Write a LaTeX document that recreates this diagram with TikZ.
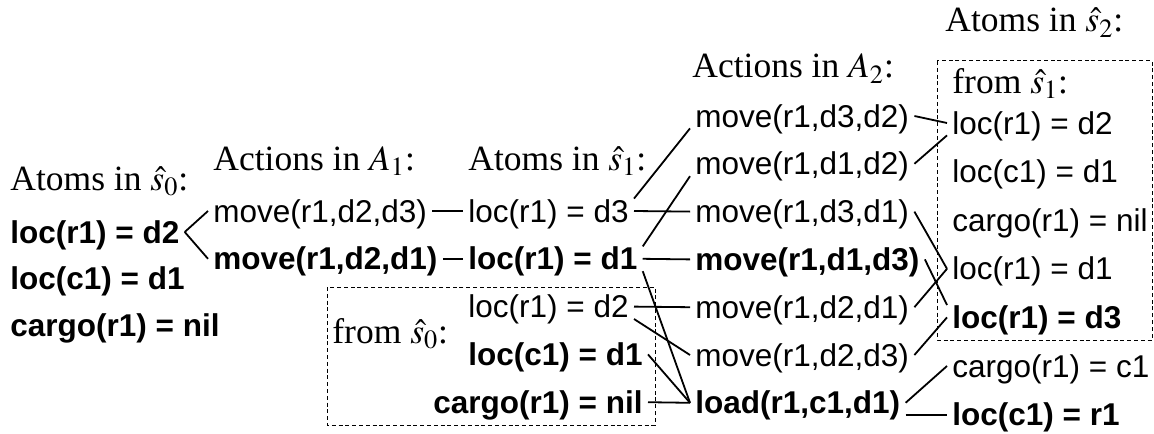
\documentclass[tikz,border=0pt]{standalone}
\usepackage{mathptmx}
\usepackage{fontspec}
\setmainfont{Liberation Serif}
\setsansfont{Liberation Sans}
\usetikzlibrary{positioning}
\newcommand{\atomfont}{\sffamily\fontsize{15.75}{18}\selectfont}
\newcommand{\headfont}{\fontsize{17.75}{20}\selectfont}
\tikzset{
  atom/.style={font=\atomfont, inner xsep=2.5pt, inner ysep=0pt,
               text height=11.5pt, text depth=0.5pt, anchor=base west},
  atomB/.style={atom, font=\atomfont\bfseries},
  head/.style={font=\headfont, inner sep=0pt, anchor=base west},
  link/.style={line width=0.9pt},
  groupbox/.style={draw, line width=0.5pt, dash pattern=on 2pt off 1.4pt},
}
\begin{document}
\begin{tikzpicture}[x=0.5pt, y=-0.5pt]
  \useasboundingbox (0,0) rectangle (1154,433);
  % column headings
  \node[head] (h0) at (10,190) {Atoms in $\hat{s}_0$:};
  \node[head] (h1) at (213,170) {Actions in $A_1$:};
  \node[head] (h2) at (468,170) {Atoms in $\hat{s}_1$:};
  \node[head] (h3) at (692,78) {Actions in $A_2$:};
  \node[head] (h4) at (945,32) {Atoms in $\hat{s}_2$:};
  % atoms in s0
  \node[atomB] (s0a) at (5,243) {loc(r1) = d2};
  \node[atomB, below=11pt of s0a.south west, anchor=north west] (s0b) {loc(c1) = d1};
  \node[atomB, below=11pt of s0b.south west, anchor=north west] (s0c) {cargo(r1) = nil};
  % actions in A1
  \node[atom] (m1a) at (208,222) {move(r1,d2,d3)};
  \node[atomB, below=11.5pt of m1a.south west, anchor=north west] (m1b) {move(r1,d2,d1)};
  % atoms in s1
  \node[atom] (s1a) at (463,222) {loc(r1) = d3};
  \node[atomB, below=11.5pt of s1a.south west, anchor=north west] (s1b) {loc(r1) = d1};
  \node[atom, below=11.5pt of s1b.south west, anchor=north west] (s1c) {loc(r1) = d2};
  \node[atomB, below=11.5pt of s1c.south west, anchor=north west] (s1d) {loc(c1) = d1};
  \node[atomB, below=11.5pt of s1d.south east, anchor=north east] (s1e) {cargo(r1) = nil};
  \node[head] (f0) at (332,343) {from $\hat{s}_0$:};
  \draw[groupbox] (327,287) rectangle (655,425);
  % actions in A2
  \node[atom] (m2a) at (690,127) {move(r1,d3,d2)};
  \node[atom, below=11.5pt of m2a.south west, anchor=north west] (m2b) {move(r1,d1,d2)};
  \node[atom, below=11.5pt of m2b.south west, anchor=north west] (m2c) {move(r1,d3,d1)};
  \node[atomB, below=11.5pt of m2c.south west, anchor=north west] (m2d) {move(r1,d1,d3)};
  \node[atom, below=11.5pt of m2d.south west, anchor=north west] (m2e) {move(r1,d2,d1)};
  \node[atom, below=11.5pt of m2e.south west, anchor=north west] (m2f) {move(r1,d2,d3)};
  \node[atomB, below=11.5pt of m2f.south west, anchor=north west] (m2g) {load(r1,c1,d1)};
  % atoms in s2
  \node[head] (f1) at (952,93) {from $\hat{s}_1$:};
  \node[atom] (s2a) at (947,134) {loc(r1) = d2};
  \node[atom, below=11.9pt of s2a.south west, anchor=north west] (s2b) {loc(c1) = d1};
  \node[atom, below=11.9pt of s2b.south west, anchor=north west] (s2c) {cargo(r1) = nil};
  \node[atom, below=11.9pt of s2c.south west, anchor=north west] (s2d) {loc(r1) = d1};
  \node[atomB, below=11.9pt of s2d.south west, anchor=north west] (s2e) {loc(r1) = d3};
  \node[atom, below=11.9pt of s2e.south west, anchor=north west] (s2f) {cargo(r1) = c1};
  \node[atomB, below=11.9pt of s2f.south west, anchor=north west] (s2g) {loc(c1) = r1};
  \draw[groupbox] (937,61) rectangle (1152,340);
  % s0 -> A1 -> s1
  \draw[link] (s0a.east) -- (m1a.west);
  \draw[link] (s0a.east) -- (m1b.west);
  \draw[link] (m1a.east) -- (s1a.west);
  \draw[link] (m1b.east) -- (s1b.west);
  % s1 -> A2
  \draw[link] (s1a.north east) -- (m2a.south west);
  \draw[link] (s1a.east) -- (m2c.west);
  \draw[link] (s1b.north east) -- (m2b.south west);
  \draw[link] (s1b.east) -- (m2d.west);
  \draw[link] (s1b.south east) -- (m2g.west);
  \draw[link] (s1c.east) -- (m2e.west);
  \draw[link] (s1c.south east) -- (m2f.west);
  \draw[link] (s1d.east) -- (m2g.west);
  \draw[link] (s1e.east) -- (m2g.west);
  % A2 -> s2
  \draw[link] (m2a.east) -- (s2a.west);
  \draw[link] (m2b.east) -- (s2a.south west);
  \draw[link] (m2c.east) -- (s2d.west);
  \draw[link] (m2d.east) -- (s2e.north west);
  \draw[link] (m2e.east) -- (s2d.west);
  \draw[link] (m2f.east) -- (s2e.west);
  \draw[link] (m2g.east) -- (s2f.west);
  \draw[link] (m2g.south east) -- (m2g.south east -| s2g.west);
\end{tikzpicture}
\end{document}
